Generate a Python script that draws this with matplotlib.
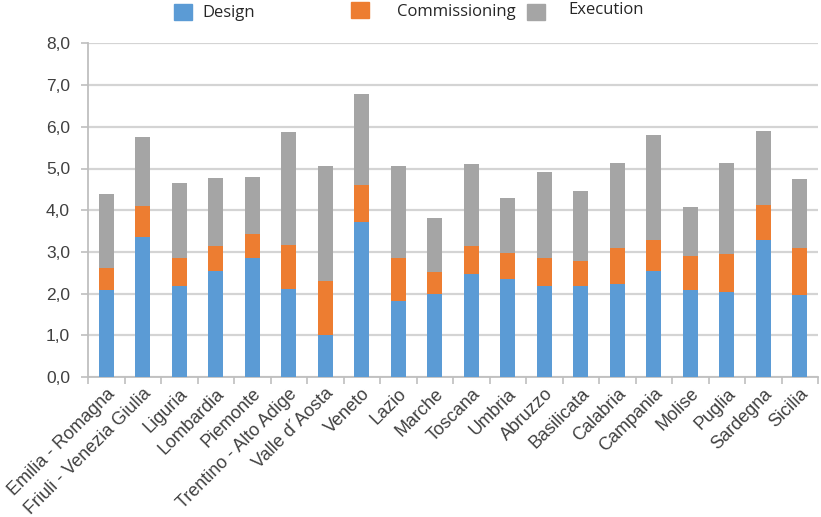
import matplotlib
matplotlib.use("Agg")
import matplotlib.pyplot as plt
from matplotlib.patches import Rectangle
from matplotlib.ticker import FixedLocator, FuncFormatter
import numpy as np

regions = [
    "Emilia - Romagna", "Friuli - Venezia Giulia", "Liguria", "Lombardia",
    "Piemonte", "Trentino - Alto Adige", "Valle d\u00b4Aosta", "Veneto", "Lazio",
    "Marche", "Toscana", "Umbria", "Abruzzo", "Basilicata", "Calabria",
    "Campania", "Molise", "Puglia", "Sardegna", "Sicilia",
]

design = [2.09, 3.36, 2.18, 2.53, 2.85, 2.12, 1.00, 3.72, 1.83,
          1.98, 2.47, 2.34, 2.18, 2.18, 2.23, 2.53, 2.09, 2.05, 3.29, 1.96]
commissioning_top = [2.62, 4.10, 2.85, 3.14, 3.43, 3.17, 2.30, 4.61, 2.85,
                     2.51, 3.14, 2.98, 2.85, 2.79, 3.10, 3.29, 2.91, 2.96, 4.12, 3.10]
total = [4.39, 5.75, 4.66, 4.77, 4.80, 5.87, 5.06, 6.79, 5.06,
         3.81, 5.10, 4.29, 4.91, 4.46, 5.12, 5.80, 4.07, 5.12, 5.89, 4.74]
commissioning = [round(c - d, 2) for c, d in zip(commissioning_top, design)]
execution = [round(t - c, 2) for t, c in zip(total, commissioning_top)]

series_names = ["Design", "Commissioning", "Execution"]
colors = ["#5b9bd5", "#ed7d31", "#a5a5a5"]
yticks = [0, 1, 2, 3, 4, 5, 6, 7, 8]

fig = plt.figure(figsize=(8.21, 5.17), dpi=100)
ax = fig.add_axes([88 / 821, 1 - 377 / 517, 730 / 821, (377 - 43.4) / 517])

x = np.arange(len(regions))
w = 0.41
bottom = np.zeros(len(regions))
for vals, c in zip([design, commissioning, execution], colors):
    ax.bar(x, vals, w, bottom=bottom, color=c, zorder=3, linewidth=0)
    bottom += np.array(vals)

ax.set_xlim(-0.5, len(regions) - 0.5)
ax.set_ylim(0, 8)
ax.set_yticks(yticks)
ax.yaxis.set_major_formatter(FuncFormatter(lambda v, p: f"{v:.1f}".replace(".", ",")))
ax.grid(axis="y", color="#d4d4d4", linewidth=1.6, zorder=0)
ax.set_axisbelow(True)

for s in ["top", "right"]:
    ax.spines[s].set_visible(False)
for s in ["left", "bottom"]:
    ax.spines[s].set_color("#bfbfbf")
    ax.spines[s].set_linewidth(1.3)

tick_font = dict(family=["Liberation Sans", "DejaVu Sans"], size=13)
ax.set_xticks(x)
ax.set_xticklabels(regions, rotation=45, ha="right", va="top",
                   rotation_mode="anchor", color="#404040", **tick_font)
ax.xaxis.set_minor_locator(FixedLocator(np.arange(-0.5, len(regions), 1.0)))
ax.tick_params(axis="x", which="major", length=0, pad=6)
ax.tick_params(axis="x", which="minor", length=5, color="#bfbfbf", width=1.2)
ax.tick_params(axis="y", length=5, color="#bfbfbf", width=1.2, pad=8)
for lab in ax.get_yticklabels():
    lab.set_fontfamily(["Liberation Sans", "DejaVu Sans"])
    lab.set_fontsize(12.5)
    lab.set_color("#404040")

# legend across the top
legend_font = dict(family=["Open Sans", "DejaVu Sans"], size=12, color="#262626",
                   va="center", ha="left")
entries = [
    (174, 4, 202, 13),
    (351, 2, 397, 12),
    (527, 4, 568, 10),
]
for (sx, sy, tx, ty), name, c in zip(entries, series_names, colors):
    fig.patches.append(Rectangle((sx / 821, 1 - (sy + 16) / 517), 18 / 821, 16 / 517,
                                 transform=fig.transFigure, color=c))
    fig.text(tx / 821, 1 - ty / 517, name, **legend_font)

fig.savefig("out.png", dpi=100)
